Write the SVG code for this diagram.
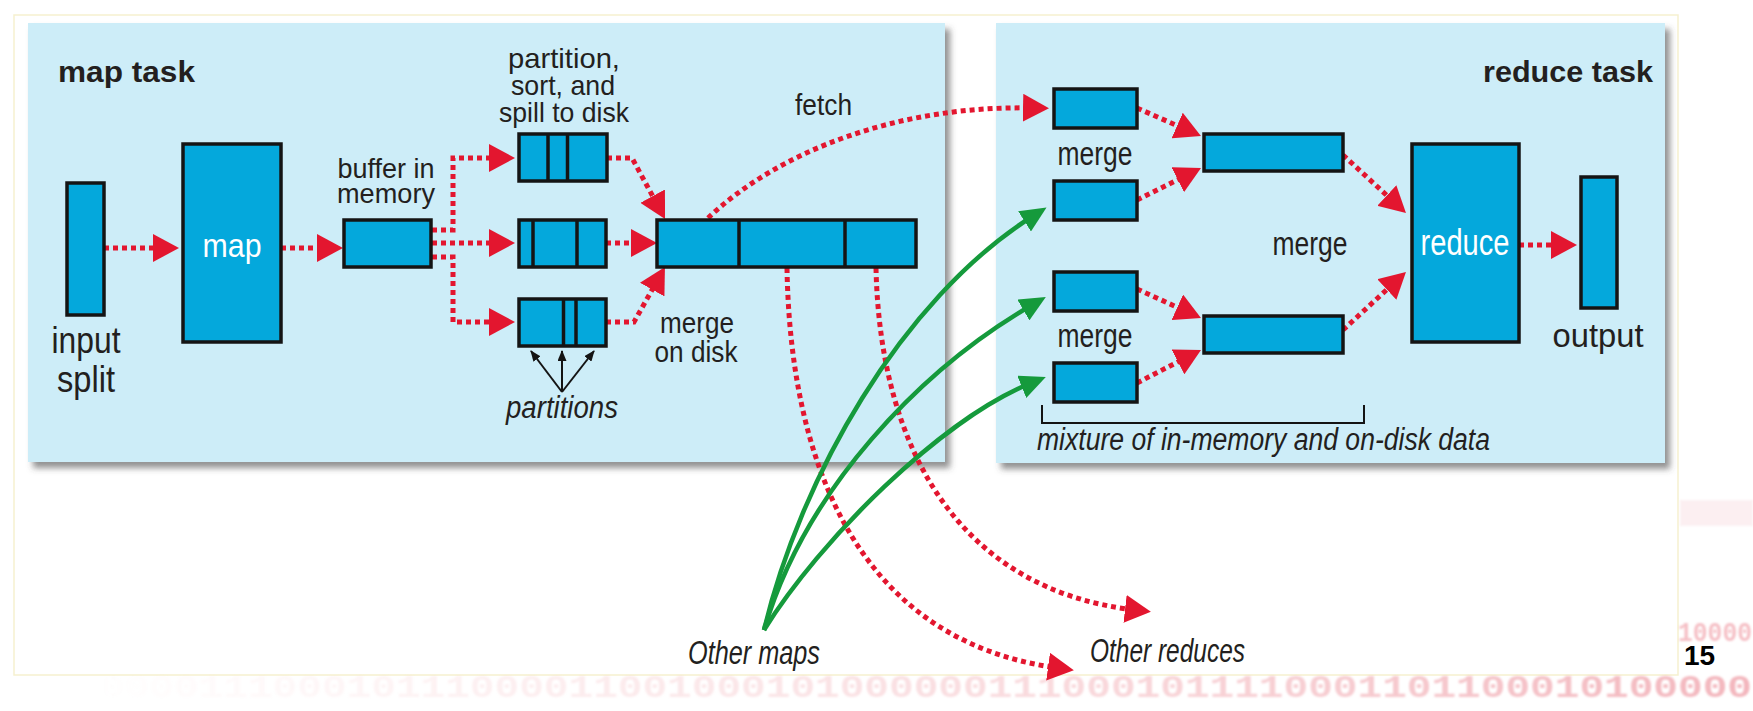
<svg xmlns="http://www.w3.org/2000/svg" width="1753" height="711" viewBox="0 0 1753 711">
<defs>
<style>
.panel{fill:#cdedf8;filter:url(#shadow)}
.box{fill:#04a8dc;stroke:#141414;stroke-width:3.5}
.div{stroke:#141414;stroke-width:3.5}
.dot{fill:none;stroke:#e3162f;stroke-width:5;stroke-dasharray:5 4}
.green{fill:none;stroke:#159a3c;stroke-width:4.5}
.blk{fill:none;stroke:#141414;stroke-width:2}
.t{font-family:"Liberation Sans",Arial,sans-serif;fill:#231f20}
.w{fill:#ffffff}
.b{font-weight:bold}
.i{font-style:italic}
.m{text-anchor:middle}
.bin{font-family:"Liberation Mono",monospace;font-weight:bold}
</style>
<filter id="shadow" x="-5%" y="-5%" width="112%" height="115%">
<feDropShadow dx="5" dy="6" stdDeviation="3" flood-color="#4a4a4a" flood-opacity="0.6"/>
</filter>
<filter id="soft" x="-2%" y="-30%" width="104%" height="160%">
<feGaussianBlur stdDeviation="0.8"/>
</filter>
<marker id="ar" markerUnits="userSpaceOnUse" markerWidth="26" markerHeight="28" viewBox="0 0 26 28" refX="10" refY="14" orient="auto">
<path d="M0,0 L26,14 L0,28 z" fill="#e3162f"/>
</marker>
<marker id="ag" markerUnits="userSpaceOnUse" markerWidth="26" markerHeight="24" viewBox="0 0 26 24" refX="10" refY="12" orient="auto">
<path d="M0,0 L26,12 L0,24 z" fill="#159a3c"/>
</marker>
<marker id="ab" markerUnits="userSpaceOnUse" markerWidth="11" markerHeight="9" viewBox="0 0 11 9" refX="10" refY="4.5" orient="auto">
<path d="M0,0 L11,4.5 L0,9 z" fill="#141414"/>
</marker>
<linearGradient id="pinkfade" x1="0" y1="0" x2="1" y2="0">
<stop offset="0" stop-color="#f4b5bb" stop-opacity="0"/>
<stop offset="0.35" stop-color="#f4b5bb" stop-opacity="0.3"/>
<stop offset="1" stop-color="#ef9ea7" stop-opacity="0.75"/>
</linearGradient>
</defs>

<rect x="0" y="0" width="1753" height="711" fill="#ffffff"/>
<rect x="14" y="15" width="1664" height="660" fill="none" stroke="#f6f1cf" stroke-width="1.5"/>
<rect x="1680" y="500" width="73" height="26" fill="#fbe6e9" opacity="0.6" filter="url(#soft)"/>
<text class="bin" x="1678" y="641" font-size="27" textLength="74" lengthAdjust="spacingAndGlyphs" fill="#f2a9b1" opacity="0.75" filter="url(#soft)">10000</text>
<text class="bin" x="100" y="697" font-size="31" textLength="1652" lengthAdjust="spacingAndGlyphs" fill="url(#pinkfade)" filter="url(#soft)">0000111000101110000110010001010000001110001011110001101100010100000</text>

<g id="map-task-panel">
<rect class="panel" x="28" y="23" width="917" height="439"/>
<text class="t b" x="58" y="82" font-size="30" textLength="137" lengthAdjust="spacingAndGlyphs">map task</text>
</g>
<g id="reduce-task-panel">
<rect class="panel" x="996" y="23" width="669" height="440"/>
<text class="t b" x="1483" y="82" font-size="30" textLength="170" lengthAdjust="spacingAndGlyphs">reduce task</text>
</g>

<g id="connectors">
<path class="dot" d="M104,248 H163" marker-end="url(#ar)"/>
<path class="dot" d="M281,248 H327" marker-end="url(#ar)"/>
<path class="dot" d="M432,230 H453 V158 H499" marker-end="url(#ar)"/>
<path class="dot" d="M432,243 H499" marker-end="url(#ar)"/>
<path class="dot" d="M432,257 H453 V322 H499" marker-end="url(#ar)"/>
<path class="dot" d="M607,158 H632 L657.4,204.9" marker-end="url(#ar)"/>
<path class="dot" d="M606,243 H641" marker-end="url(#ar)"/>
<path class="dot" d="M606,322 H634 L657.1,280.9" marker-end="url(#ar)"/>
<path class="dot" d="M708,218 C780,150 900,105 1033,108" marker-end="url(#ar)"/>
<path class="dot" d="M787,268 C790,450 850,640 1058,668" marker-end="url(#ar)"/>
<path class="dot" d="M876,268 C880,450 960,590 1135,610" marker-end="url(#ar)"/>
<path class="green" d="M764,630 C800,480 900,300 1033,216" marker-end="url(#ag)"/>
<path class="green" d="M764,630 C805,490 920,370 1032,305" marker-end="url(#ag)"/>
<path class="green" d="M764,630 C820,540 940,420 1031,383" marker-end="url(#ag)"/>
<path class="dot" d="M1137,108 L1186.3,129.6" marker-end="url(#ar)"/>
<path class="dot" d="M1137,200 L1186.7,175.2" marker-end="url(#ar)"/>
<path class="dot" d="M1343,155 L1394.2,202.2" marker-end="url(#ar)"/>
<path class="dot" d="M1343,330 L1394.2,282.8" marker-end="url(#ar)"/>
<path class="dot" d="M1137,289 L1186.4,311.4" marker-end="url(#ar)"/>
<path class="dot" d="M1137,383 L1186.8,357.3" marker-end="url(#ar)"/>
<path class="dot" d="M1519,245 H1561" marker-end="url(#ar)"/>
<path class="blk" d="M562,392 L531,351" marker-end="url(#ab)"/>
<path class="blk" d="M562,392 L562,351" marker-end="url(#ab)"/>
<path class="blk" d="M562,392 L594,351" marker-end="url(#ab)"/>
<path class="blk" d="M1042,405 V423 H1364 V405"/>
</g>

<g id="input-split">
<rect class="box" x="67" y="183" width="37" height="132"/>
<text class="t m" x="86" y="353" font-size="36" textLength="69" lengthAdjust="spacingAndGlyphs">input</text>
<text class="t m" x="86" y="392" font-size="36" textLength="58" lengthAdjust="spacingAndGlyphs">split</text>
</g>
<g id="map">
<rect class="box" x="183" y="144" width="98" height="198"/>
<text class="t w m" x="232" y="257" font-size="34" textLength="59" lengthAdjust="spacingAndGlyphs">map</text>
</g>
<g id="buffer">
<rect class="box" x="344" y="220" width="87" height="47"/>
<text class="t m" x="386" y="178" font-size="28" textLength="97" lengthAdjust="spacingAndGlyphs">buffer in</text>
<text class="t m" x="386" y="203" font-size="28" textLength="98" lengthAdjust="spacingAndGlyphs">memory</text>
</g>
<g id="spill-label">
<text class="t m" x="564" y="68" font-size="28" textLength="112" lengthAdjust="spacingAndGlyphs">partition,</text>
<text class="t m" x="563" y="95" font-size="28" textLength="104" lengthAdjust="spacingAndGlyphs">sort, and</text>
<text class="t m" x="564" y="122" font-size="28" textLength="130" lengthAdjust="spacingAndGlyphs">spill to disk</text>
</g>
<g id="spill-1">
<rect class="box" x="519" y="134" width="88" height="47"/>
<line class="div" x1="548" y1="134" x2="548" y2="181"/>
<line class="div" x1="567.5" y1="134" x2="567.5" y2="181"/>
</g>
<g id="spill-2">
<rect class="box" x="519" y="220" width="87" height="47"/>
<line class="div" x1="533" y1="220" x2="533" y2="267"/>
<line class="div" x1="577" y1="220" x2="577" y2="267"/>
</g>
<g id="spill-3">
<rect class="box" x="519" y="299" width="87" height="47"/>
<line class="div" x1="563.5" y1="299" x2="563.5" y2="346"/>
<line class="div" x1="576" y1="299" x2="576" y2="346"/>
</g>
<g id="partitions-label">
<text class="t i m" x="562" y="418" font-size="31" textLength="112" lengthAdjust="spacingAndGlyphs">partitions</text>
</g>
<g id="merged-output">
<rect class="box" x="657" y="220" width="259" height="47"/>
<line class="div" x1="739" y1="220" x2="739" y2="267"/>
<line class="div" x1="845" y1="220" x2="845" y2="267"/>
<text class="t m" x="697" y="333" font-size="29" textLength="74" lengthAdjust="spacingAndGlyphs">merge</text>
<text class="t m" x="696" y="362" font-size="29" textLength="83" lengthAdjust="spacingAndGlyphs">on disk</text>
</g>
<g id="fetch-label">
<text class="t" x="795" y="115" font-size="29" textLength="57" lengthAdjust="spacingAndGlyphs">fetch</text>
</g>

<g id="r-in-1"><rect class="box" x="1054" y="89" width="83" height="39"/></g>
<g id="r-in-2"><rect class="box" x="1054" y="181" width="83" height="39"/></g>
<g id="r-in-3"><rect class="box" x="1054" y="272" width="83" height="39"/></g>
<g id="r-in-4"><rect class="box" x="1054" y="363" width="83" height="39"/></g>
<g id="merge-labels">
<text class="t m" x="1095" y="165" font-size="33" textLength="75" lengthAdjust="spacingAndGlyphs">merge</text>
<text class="t m" x="1310" y="255" font-size="33" textLength="75" lengthAdjust="spacingAndGlyphs">merge</text>
<text class="t m" x="1095" y="347" font-size="33" textLength="75" lengthAdjust="spacingAndGlyphs">merge</text>
</g>
<g id="r-merged-1"><rect class="box" x="1204" y="134" width="139" height="37"/></g>
<g id="r-merged-2"><rect class="box" x="1204" y="316" width="139" height="37"/></g>
<g id="reduce">
<rect class="box" x="1412" y="144" width="107" height="198"/>
<text class="t w m" x="1465" y="255" font-size="36" textLength="89" lengthAdjust="spacingAndGlyphs">reduce</text>
</g>
<g id="output">
<rect class="box" x="1581" y="177" width="36" height="131"/>
<text class="t m" x="1598" y="347" font-size="34" textLength="91" lengthAdjust="spacingAndGlyphs">output</text>
</g>
<g id="mixture-label">
<text class="t i" x="1037" y="450" font-size="31" textLength="453" lengthAdjust="spacingAndGlyphs">mixture of in-memory and on-disk data</text>
</g>
<g id="other-maps">
<text class="t i" x="688" y="664" font-size="34" textLength="132" lengthAdjust="spacingAndGlyphs">Other maps</text>
</g>
<g id="other-reduces">
<text class="t i" x="1090" y="662" font-size="34" textLength="155" lengthAdjust="spacingAndGlyphs">Other reduces</text>
</g>
<text class="t b" x="1684" y="665" font-size="28" style="fill:#000">15</text>
</svg>
